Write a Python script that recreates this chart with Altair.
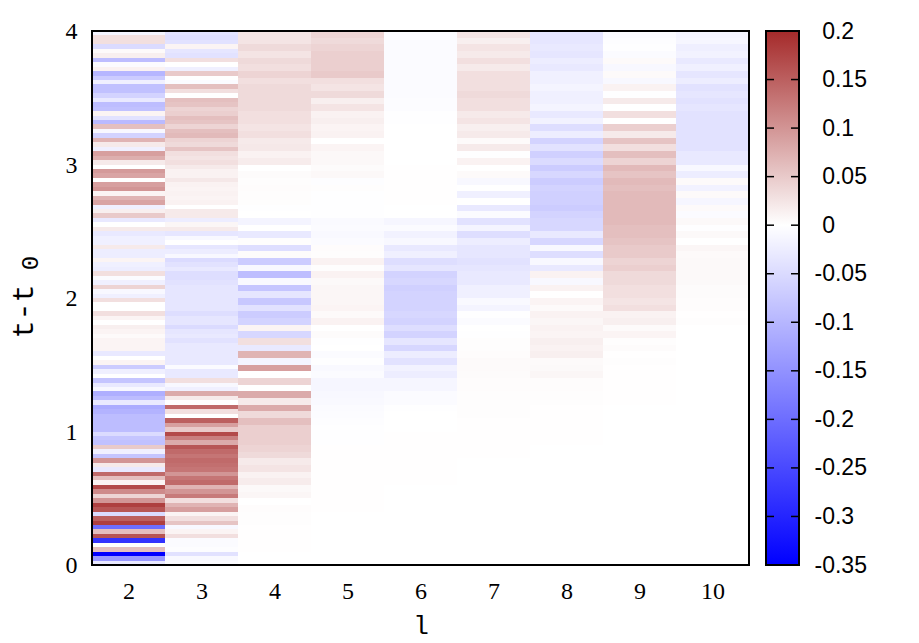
import altair as alt
import pandas as pd

# correlation by l and t-t0; lists run from t-t0=4 down to 0
# l=2,3 read at 3 values per 0.1 band, the others at 2 per band
l2 = [
    -0.015, 0.03, 0.03, -0.05, 0.005, 0.015, -0.09, -0.005, 0.012, -0.1, -0.07, -0.02,
    -0.085, -0.085, -0.06, -0.03, -0.09, -0.085, 0.01, -0.04, -0.095, 0.06, -0.01, -0.06,
    0.07, 0.02, -0.02, 0.09, 0.075, 0.02, 0.0, 0.095, 0.085, 0.0, 0.09, 0.10,
    0.01, 0.07, 0.085, -0.02, 0.015, 0.05, -0.03, 0.0, 0.02, -0.03, -0.02, -0.02,
    0.02, -0.025, -0.025, 0.01, -0.02, -0.025, 0.03, -0.005, -0.02, 0.04, -0.01, -0.02,
    0.03, 0.0, 0.0, 0.03, 0.01, 0.0, 0.015, 0.01, 0.005, 0.01, 0.01, 0.01,
    -0.03, 0.0, 0.01, -0.07, -0.02, 0.0, -0.08, -0.03, -0.01, -0.11, -0.09, -0.03,
    -0.115, -0.105, -0.09, -0.09, -0.09, -0.09, -0.05, -0.08, -0.085, 0.05, -0.02, -0.08,
    0.10, 0.02, -0.03, 0.14, 0.06, 0.01, 0.17, 0.11, 0.04, 0.10, 0.18, 0.16,
    -0.05, 0.15, 0.18, -0.2, 0.06, 0.16, -0.28, 0.0, 0.06, -0.35, -0.14, -0.03,
]
l3 = [
    -0.04, -0.045, -0.04, 0.01, -0.035, -0.04, 0.03, 0.0, -0.02, 0.05, 0.0, -0.005,
    0.06, 0.03, 0.0, 0.06, 0.055, 0.04, 0.045, 0.06, 0.055, 0.04, 0.06, 0.065,
    0.04, 0.035, 0.055, 0.03, 0.025, 0.03, 0.02, 0.012, 0.012, 0.022, 0.012, 0.01,
    0.012, 0.01, 0.012, 0.0, 0.02, 0.02, -0.025, 0.008, 0.02, -0.035, -0.01, 0.0,
    -0.035, -0.025, -0.01, -0.05, -0.04, -0.03, -0.045, -0.045, -0.04, -0.035, -0.035, -0.035,
    -0.035, -0.035, -0.035, -0.045, -0.035, -0.035, -0.05, -0.035, -0.03, -0.04, -0.03, -0.03,
    -0.03, -0.03, -0.03, -0.005, -0.03, -0.03, 0.03, -0.01, -0.02, 0.08, 0.02, 0.0,
    0.14, 0.03, 0.0, 0.15, 0.09, 0.05, 0.17, 0.12, 0.08, 0.16, 0.14, 0.13,
    0.14, 0.135, 0.13, 0.10, 0.13, 0.14, 0.07, 0.10, 0.125, 0.03, 0.07, 0.09,
    0.01, 0.03, 0.055, -0.01, 0.01, 0.03, -0.005, -0.005, -0.003, -0.04, -0.008, -0.005,
]
l4 = [
    0.025, 0.025, 0.035, 0.025, 0.035, 0.03, 0.04, 0.03, 0.035, 0.035, 0.035, 0.035,
    0.03, 0.03, 0.025, 0.03, 0.02, 0.022, 0.012, 0.018, 0.0, 0.004, 0.002, 0.003,
    0.002, 0.002, -0.002, 0.0, -0.015, 0.0, -0.03, 0.002, -0.045, 0.004, -0.07, -0.01,
    -0.09, -0.01, -0.08, -0.035, -0.075, -0.04, -0.07, -0.06, 0.01, -0.055, 0.03, -0.03,
    0.07, -0.015, 0.09, 0.0, 0.04, 0.0, 0.08, 0.02, 0.08, 0.035, 0.06, 0.045,
    0.045, 0.045, 0.04, 0.035, 0.02, 0.025, 0.012, 0.018, 0.006, 0.008, 0.0, 0.003,
    0.002, 0.002, 0.001, 0.001, 0.0005, 0.0005, 0.0, 0.0,
]
l5 = [
    0.04, 0.035, 0.04, 0.045, 0.045, 0.045, 0.05, 0.03, 0.025, 0.035, 0.015, 0.025,
    0.012, 0.015, 0.01, 0.012, 0.0, 0.01, 0.007, 0.007, 0.004, 0.007, -0.003, 0.002,
    -0.002, -0.001, -0.002, -0.002, -0.007, -0.005, -0.008, -0.006, 0.003, 0.002, 0.012, 0.002,
    0.012, 0.006, 0.008, 0.008, 0.008, 0.01, 0.005, 0.012, 0.0, 0.004, -0.002, 0.0,
    -0.005, -0.002, -0.008, -0.006, -0.012, -0.012, -0.01, -0.008, -0.005, -0.004, -0.003, -0.002,
    -0.001, -0.001, 0.001, 0.001, 0.001, 0.001, 0.001, 0.001, 0.001, 0.001, 0.0005, 0.0005,
    0.0, 0.0, 0.0, 0.0, 0.0, 0.0, 0.0, 0.0,
]
l6 = [
    -0.006, -0.006, -0.006, -0.006, -0.006, -0.006, -0.006, -0.006, -0.006, -0.006, -0.004, -0.004,
    -0.001, -0.001, 0.0, 0.0, 0.0, 0.0, 0.0, 0.0, 0.001, 0.001, 0.001, 0.001,
    0.001, 0.001, 0.0, 0.0, -0.012, -0.006, -0.018, -0.01, -0.03, -0.02, -0.045, -0.035,
    -0.06, -0.055, -0.065, -0.06, -0.06, -0.06, -0.055, -0.06, -0.045, -0.06, -0.035, -0.055,
    -0.025, -0.04, -0.018, -0.025, -0.012, -0.012, -0.006, -0.005, -0.001, 0.0, 0.0, 0.0,
    0.001, 0.001, 0.001, 0.001, 0.001, 0.001, 0.001, 0.001, 0.0, 0.0, 0.0, 0.0,
    0.0, 0.0, 0.0, 0.0, 0.0, 0.0, 0.0, 0.0,
]
l7 = [
    0.025, 0.015, 0.025, 0.02, 0.03, 0.02, 0.03, 0.03, 0.03, 0.035, 0.03, 0.03,
    0.02, 0.025, 0.015, 0.02, 0.005, 0.02, -0.002, 0.012, 0.0, 0.005, -0.01, 0.0,
    -0.02, 0.0, -0.03, -0.005, -0.04, -0.015, -0.045, -0.025, -0.035, -0.035, -0.04, -0.035,
    -0.03, -0.03, -0.02, -0.02, -0.008, -0.015, -0.002, -0.005, 0.0, -0.002, 0.002, 0.002,
    0.003, 0.005, 0.005, 0.004, 0.003, 0.003, 0.002, 0.002, 0.002, 0.002, 0.001, 0.001,
    0.001, 0.001, 0.001, 0.001, 0.0, 0.0, 0.0, 0.0, 0.0, 0.0, 0.0, 0.0,
    0.0, 0.0, 0.0, 0.0, 0.0, 0.0, 0.0, 0.0,
]
l8 = [
    -0.035, -0.035, -0.03, -0.035, -0.025, -0.03, -0.02, -0.02, -0.015, -0.02, -0.02, -0.015,
    -0.03, -0.018, -0.045, -0.025, -0.06, -0.04, -0.065, -0.05, -0.07, -0.055, -0.07, -0.06,
    -0.065, -0.065, -0.07, -0.06, -0.055, -0.055, -0.03, -0.055, -0.01, -0.045, -0.01, -0.03,
    0.012, -0.01, 0.012, 0.0, 0.01, 0.005, 0.012, 0.008, 0.012, 0.01, 0.015, 0.012,
    0.015, 0.005, 0.006, 0.008, 0.003, 0.003, 0.002, 0.002, 0.001, 0.001, 0.001, 0.001,
    0.001, 0.001, 0.0, 0.0, 0.0, 0.0, 0.0, 0.0, 0.0, 0.0, 0.0, 0.0,
    0.0, 0.0, 0.0, 0.0, 0.0, 0.0, 0.0, 0.0,
]
l9 = [
    -0.006, -0.003, -0.002, -0.006, 0.005, -0.01, 0.005, -0.01, 0.012, -0.002, 0.02, 0.0,
    0.03, 0.0, 0.045, 0.02, 0.055, 0.03, 0.06, 0.04, 0.065, 0.055, 0.065, 0.06,
    0.065, 0.065, 0.065, 0.065, 0.065, 0.06, 0.06, 0.055, 0.05, 0.05, 0.04, 0.045,
    0.035, 0.035, 0.03, 0.03, 0.025, 0.03, 0.012, 0.015, 0.005, 0.01, 0.002, 0.004,
    0.001, 0.002, 0.001, 0.001, 0.001, 0.001, 0.001, 0.001, 0.0, 0.0, 0.0, 0.0,
    0.0, 0.0, 0.0, 0.0, 0.0, 0.0, 0.0, 0.0, 0.0, 0.0, 0.0, 0.0,
    0.0, 0.0, 0.0, 0.0, 0.0, 0.0, 0.0, 0.0,
]
l10 = [
    -0.015, -0.012, -0.022, -0.018, -0.03, -0.02, -0.035, -0.025, -0.04, -0.035, -0.04, -0.035,
    -0.04, -0.04, -0.04, -0.04, -0.04, -0.04, -0.03, -0.03, -0.01, -0.025, 0.005, -0.018,
    0.005, -0.012, 0.005, -0.006, 0.006, -0.002, 0.006, 0.0, 0.008, 0.005, 0.006, 0.006,
    0.006, 0.006, 0.004, 0.004, 0.003, 0.003, 0.001, 0.002, 0.0, 0.0, 0.0, 0.0,
    0.0, 0.0, 0.0, 0.0, 0.0, 0.0, 0.0, 0.0, 0.0, 0.0, 0.0, 0.0,
    0.0, 0.0, 0.0, 0.0, 0.0, 0.0, 0.0, 0.0, 0.0, 0.0, 0.0, 0.0,
    0.0, 0.0, 0.0, 0.0, 0.0, 0.0, 0.0, 0.0,
]
columns = {2: l2, 3: l3, 4: l4, 5: l5, 6: l6, 7: l7, 8: l8, 9: l9, 10: l10}

bar_ticks = [0.2, 0.15, 0.1, 0.05, 0, -0.05, -0.1, -0.15, -0.2, -0.25, -0.3, -0.35]

rows = []
for l, vals in columns.items():
    h = 4 / len(vals)
    for i, v in enumerate(vals):
        rows.append({"l0": l - 0.5, "l1": l + 0.5, "t0": 4 - (i + 1) * h, "t1": 4 - i * h, "v": v})
source = pd.DataFrame(rows)

heat = (
    alt.Chart(source)
    .mark_rect(strokeWidth=0)
    .encode(
        alt.X(
            "l0:Q",
            scale=alt.Scale(domain=[1.5, 10.5], nice=False, zero=False),
            axis=alt.Axis(
                values=list(columns),
                title="l",
                format="d",
                grid=False,
                domain=False,
                tickSize=0,
                labelPadding=14,
                labelFont="Liberation Serif",
                labelFontSize=24,
                labelColor="black",
                titleFont="Liberation Mono",
                titleFontSize=26,
                titleFontWeight="normal",
                titlePadding=9,
            ),
        ),
        x2="l1:Q",
        y=alt.Y(
            "t0:Q",
            scale=alt.Scale(domain=[0, 4], nice=False, round=True),
            axis=alt.Axis(
                values=[0, 1, 2, 3, 4],
                title="t-t",
                titleY=280,
                format="d",
                grid=False,
                domain=False,
                tickSize=0,
                labelPadding=15,
                labelFont="Liberation Serif",
                labelFontSize=24,
                labelColor="black",
                titleFont="Liberation Mono",
                titleFontSize=30,
                titleFontWeight="normal",
                titlePadding=27,
            ),
        ),
        y2="t1:Q",
        color=alt.Color(
            "v:Q",
            scale=alt.Scale(
                domain=[-0.35, 0, 0.2],
                range=["#0000ff", "#ffffff", "#a52a2a"],
                interpolate="rgb",
                clamp=True,
            ),
            legend=None,
        ),
    )
)

frame = (
    alt.Chart(pd.DataFrame({"a": [1.5], "b": [10.5], "c": [0], "d": [4]}))
    .mark_rect(fillOpacity=0, stroke="black", strokeWidth=2)
    .encode(x="a:Q", x2="b:Q", y="c:Q", y2="d:Q")
)

# subscript of the y title
sub_zero = (
    alt.Chart(pd.DataFrame({"s": ["0"]}))
    .mark_text(angle=270, align="center", baseline="middle", font="Liberation Mono", fontSize=24, color="black")
    .encode(text="s:N", x=alt.value(-61), y=alt.value(232))
)

main = alt.layer(heat, frame, sub_zero).properties(width=657, height=534)

ramp = alt.LinearGradient(
    gradient="linear",
    stops=[
        alt.GradientStop(color="#0000ff", offset=0),
        alt.GradientStop(color="#ffffff", offset=0.35 / 0.55),
        alt.GradientStop(color="#a52a2a", offset=1),
    ],
    x1=0,
    x2=0,
    y1=1,
    y2=0,
)

bar_y = alt.Y(
    "v:Q",
    scale=alt.Scale(domain=[-0.35, 0.2], nice=False, zero=False),
    axis=alt.Axis(
        orient="right",
        values=bar_ticks,
        title=None,
        grid=False,
        domain=False,
        tickSize=0,
        labelPadding=15,
        labelFont="Liberation Sans",
        labelFontSize=23,
        labelColor="black",
        # vega trims plain leading spaces, the zero-width one keeps the gap
        labelExpr="datum.value < 0 ? '' + datum.value : '\u200b\u2004' + datum.value",
    ),
)

bar_rect = (
    alt.Chart(pd.DataFrame({"v": [-0.35], "top": [0.2]}))
    .mark_rect(fill=ramp, stroke="black", strokeWidth=2)
    .encode(bar_y, y2="top:Q", x=alt.value(0), x2=alt.value(33))
)
tick_df = pd.DataFrame({"v": bar_ticks})
ticks_left = (
    alt.Chart(tick_df)
    .mark_rule(color="black", strokeWidth=1.5)
    .encode(alt.Y("v:Q"), x=alt.value(0), x2=alt.value(8))
)
ticks_right = (
    alt.Chart(tick_df)
    .mark_rule(color="black", strokeWidth=1.5)
    .encode(alt.Y("v:Q"), x=alt.value(25), x2=alt.value(33))
)

bar = alt.layer(bar_rect, ticks_left, ticks_right).properties(width=33, height=534)

chart = (
    alt.hconcat(main, bar, spacing=15)
    .properties(padding={"left": 0, "top": 11, "right": 0, "bottom": 4}, background="white")
    .configure_view(stroke=None)
)

chart.save("out.html", embed_options={"renderer": "svg", "actions": False})
